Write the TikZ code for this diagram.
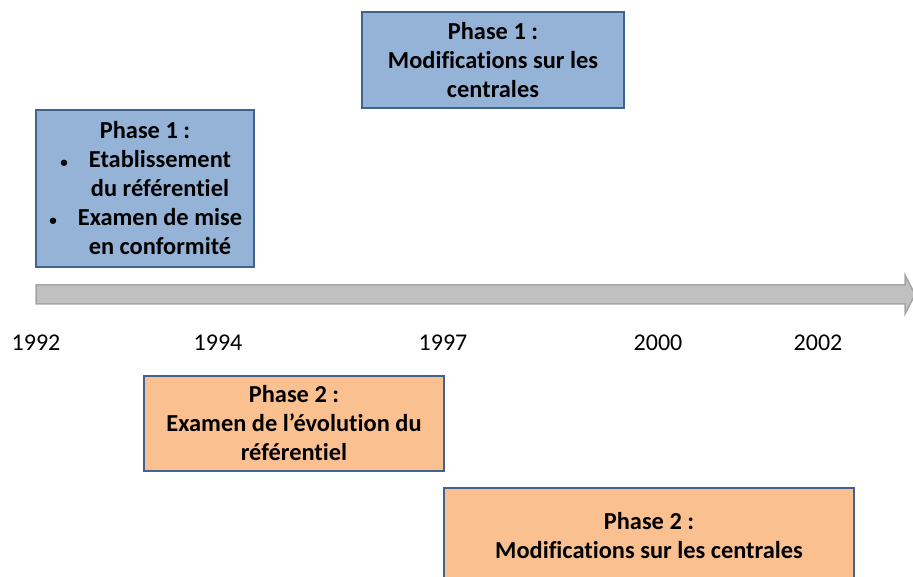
\documentclass[tikz,border=0pt]{standalone}
\usepackage{fontspec}
\setmainfont[Ligatures=NoCommon]{Carlito}
\usepackage{xcolor}
\usetikzlibrary{positioning}
\definecolor{PhaseBlue}{HTML}{95B3D7}
\definecolor{PhaseOrange}{HTML}{FAC090}
\definecolor{PhaseBorder}{HTML}{41648F}
\definecolor{AxisFill}{HTML}{C0C0C0}
\definecolor{AxisDraw}{HTML}{A5A5A5}
\tikzset{
    % Base box style
    phasebox/.style={
        draw=PhaseBorder,
        line width=2pt,
        inner sep=0pt
    },
    % Phase 1 box
    bluebox/.style={
        phasebox,
        fill=PhaseBlue
    },
    % Phase 2 box
    orangebox/.style={
        phasebox,
        fill=PhaseOrange
    },
    % Text inside boxes
    boxtext/.style={
        inner sep=0pt,
        align=center,
        font=\fontsize{24.4}{29}\selectfont\bfseries
    },
    % Year under the axis
    yearlabel/.style={
        inner sep=0pt,
        font=\fontsize{24}{29}\selectfont
    },
    % Time axis
    timearrow/.style={
        fill=AxisFill,
        draw=AxisDraw,
        line width=1.5pt,
        line join=miter
    }
}
\newcommand{\itembullet}{\llap{{\fontsize{15}{15}\selectfont\textbullet}\hspace{21pt}}}
\begin{document}
\begin{tikzpicture}[x=1pt,y=-1pt]
    \useasboundingbox (0,0) rectangle (913,577);
    \clip (0,0) rectangle (913,577);

    % time axis
    \coordinate (axisstart) at (36,294.5);
    \coordinate (axistip) at (915,294.5);
    \draw[timearrow] (36,285) -- (905,285) -- (905,275) -- (axistip)
        -- (905,314) -- (905,304) -- (36,304) -- cycle;

    % years
    \foreach \yr/\xpos in {1992/36,1994/218,1997/443,2000/658,2002/818}
        \node[yearlabel] (year\yr) at (\xpos,343) {\yr};

    % phase 1 boxes
    \node[bluebox, minimum width=218pt, minimum height=157pt] (refbox) at (145,188.5) {};
    \node[boxtext] (reftitle) at (145,130.5) {Phase 1 :};
    \node[boxtext] (refitems) at (160,203) {\itembullet Etablissement\\du référentiel\\\itembullet Examen de mise\\en conformité};

    \node[bluebox, minimum width=262pt, minimum height=96pt] (modbox) at (493,60) {};
    \node[boxtext] (modtext) at (modbox.center) {Phase 1 :\\Modifications sur les\\centrales};

    % phase 2 boxes
    \node[orangebox, minimum width=300pt, minimum height=95pt] (evobox) at (294,423.5) {};
    \node[boxtext] (evotext) at (evobox.center) {Phase 2 :\\Examen de l’évolution du\\référentiel};

    \node[orangebox, minimum width=410pt, minimum height=96pt] (centbox) at (649,536) {};
    \node[boxtext] (centtext) at (centbox.center) {Phase 2 :\\Modifications sur les centrales};
\end{tikzpicture}
\end{document}
